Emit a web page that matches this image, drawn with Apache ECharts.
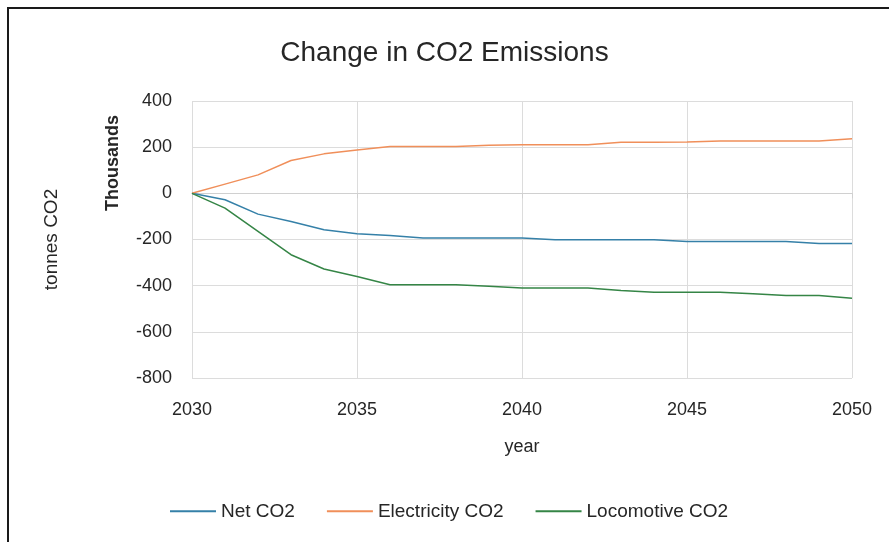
<!DOCTYPE html>
<head>
  <script src="https://cdn.jsdelivr.net/npm/echarts@6/dist/echarts.min.js"></script>
  <style>
    html,body{margin:0;padding:0;background:#fff;overflow:hidden;}
  </style>
</head>
<body>
  <div id='chart' style="width:889px;height:542px;"></div>
  <script>
    var years=[2030,2031,2032,2033,2034,2035,2036,2037,2038,2039,2040,
               2041,2042,2043,2044,2045,2046,2047,2048,2049,2050];
    // thousands of tonnes
    var netCO2=[0,-28,-90,-122,-158,-175,-183,-193,-193,-193,-194,
                -201,-201,-201,-201,-209,-209,-209,-209,-217,-217];
    var elecCO2=[0,40,80,142,171,188,203,203,203,208,210,
                 210,210,221,221,222,227,227,227,227,236];
    var locoCO2=[0,-64,-165,-266,-328,-360,-396,-396,-396,-403,-410,
                 -410,-410,-421,-428,-428,-428,-435,-443,-443,-454];
    var seriesNames=['Net CO2','Electricity CO2','Locomotive CO2'];
    var colors=['#3580a8','#f08f5a','#358546'];

    function pairs(vals){
      return years.map(function(y,i){return [y,vals[i]];});
    }

    var font='"Liberation Sans", Arial, sans-serif';
    var myChart=echarts.init(document.getElementById('chart'),null,{renderer:'canvas'});
    var option={
      animation:false,
      color:colors,
      title:{
        text:'Change in CO2 Emissions',
        left:'center',
        top:24,
        textStyle:{fontFamily:font,fontSize:28,fontWeight:'normal',color:'#262626'}
      },
      legend:{
        data:seriesNames,
        top:490,
        left:165,
        itemWidth:46,
        itemHeight:2,
        itemGap:32,
        icon:'rect',
        textStyle:{fontFamily:font,fontSize:19,color:'#262626'}
      },
      grid:{left:192,right:37,top:101,bottom:164},
      xAxis:{
        type:'value',
        min:2030,max:2050,interval:5,
        name:'year',
        nameLocation:'middle',
        nameGap:54,
        nameTextStyle:{fontFamily:font,fontSize:18,color:'#262626'},
        axisLine:{show:true,lineStyle:{color:'#d0d0d0'}},
        axisTick:{show:true,length:5,lineStyle:{color:'#d0d0d0'}},
        axisLabel:{fontFamily:font,fontSize:18,color:'#262626',margin:17,
                   formatter:function(v){return String(v);}},
        splitLine:{show:true,lineStyle:{color:'#dcdcdc'}}
      },
      yAxis:{
        type:'value',
        min:-800,max:400,interval:200,
        name:'tonnes CO2',
        nameLocation:'middle',
        nameGap:124,
        nameRotate:90,
        nameTextStyle:{fontFamily:font,fontSize:19,color:'#262626'},
        axisLine:{show:false},
        axisTick:{show:false},
        axisLabel:{fontFamily:font,fontSize:18,color:'#262626',margin:20},
        splitLine:{show:true,lineStyle:{color:'#dcdcdc'}}
      },
      graphic:[
        {type:'rect',shape:{x:8,y:8,width:1000,height:1000},
         style:{fill:'none',stroke:'#1a1a1a',lineWidth:2},silent:true,z:-1},
        {type:'text',x:113,y:163,rotation:Math.PI/2,
         style:{text:'Thousands',fontFamily:font,fontSize:18,fontWeight:'bold',
                fill:'#262626',align:'center',verticalAlign:'middle'}}
      ],
      series:[
        {name:seriesNames[0],type:'line',data:pairs(netCO2),showSymbol:false,lineStyle:{width:1.5}},
        {name:seriesNames[1],type:'line',data:pairs(elecCO2),showSymbol:false,lineStyle:{width:1.5}},
        {name:seriesNames[2],type:'line',data:pairs(locoCO2),showSymbol:false,lineStyle:{width:1.5}}
      ]
    };
    myChart.setOption(option);
  </script>
</body>
